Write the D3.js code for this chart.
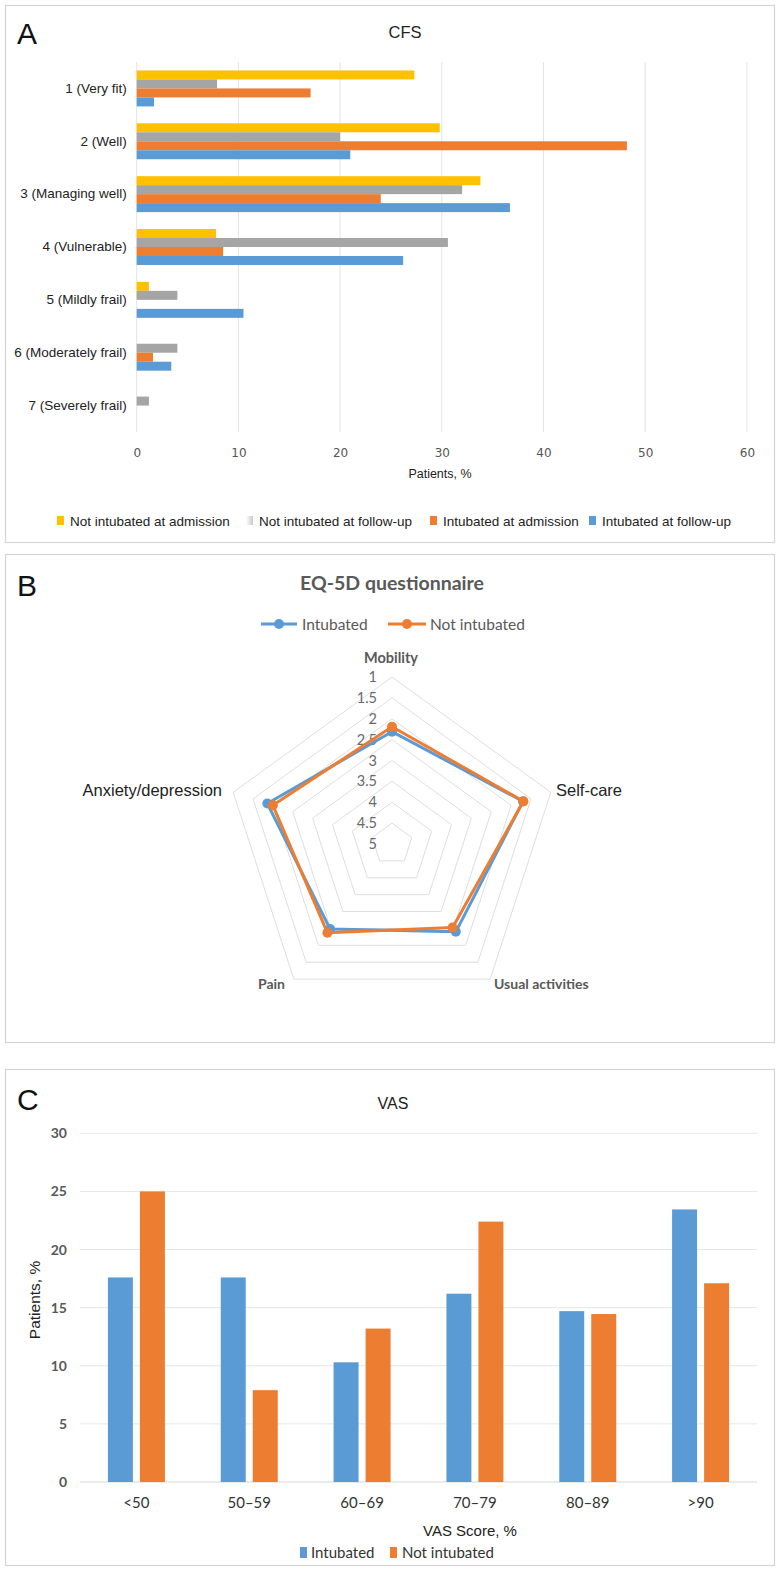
<!DOCTYPE html>
<html><head><meta charset="utf-8">
<script src="https://cdn.jsdelivr.net/npm/d3@7"></script>
<style>body{margin:0;background:#fff} svg{display:block}</style>
</head><body><svg id="c" width="780" height="1571"></svg>
<script>
// ---------- DATA ----------
const cfsCategories = ["1 (Very fit)","2 (Well)","3 (Managing well)","4 (Vulnerable)","5 (Mildly frail)","6 (Moderately frail)","7 (Severely frail)"];
const cfsSeries = ["Not intubated at admission","Not intubated at follow-up","Intubated at admission","Intubated at follow-up"];
const notIntAdmission = [27.3,29.8,33.8,7.8,1.2,0,0];
const notIntFollowup  = [7.9,20.0,32.0,30.6,4.0,4.0,1.2];
const intAdmission    = [17.1,48.2,24.0,8.5,0,1.6,0];
const intFollowup     = [1.7,21.0,36.7,26.2,10.5,3.4,0];
const cfsTicks = [0,10,20,30,40,50,60];

const eqAxes = ["Mobility","Self-care","Usual activities","Pain","Anxiety/depression"];
const eqSeries = ["Intubated","Not intubated"];
const eqIntubated    = [2.31,1.70,2.40,2.48,1.86];
const eqNotIntubated = [2.19,1.69,2.53,2.37,2.00];
const eqTicks = [1,1.5,2,2.5,3,3.5,4,4.5,5];

const vasCategories = ["<50","50–59","60–69","70–79","80–89",">90"];
const vasSeries = ["Intubated","Not intubated"];
const vasIntubated    = [17.6,17.6,10.3,16.2,14.7,23.45];
const vasNotIntubated = [25.0,7.9,13.2,22.4,14.45,17.1];
const vasTicks = [0,5,10,15,20,25,30];

// ---------- STYLE ----------
const YEL="#FFC000", GRY="#A5A5A5", ORG="#ED7D31", BLU="#5B9BD5";
const HEL="'Liberation Sans', Arial, sans-serif";
const CAL="Lato, 'Open Sans', sans-serif";
const svg = d3.select("#c");

const defs = svg.append("defs");
const lg = defs.append("linearGradient").attr("id","gg").attr("x1","0").attr("x2","1");
lg.append("stop").attr("offset","0").attr("stop-color","#ffffff");
lg.append("stop").attr("offset","1").attr("stop-color","#c8c8c8");

function panel(y0,y1,letter,ly){
  svg.append("rect").attr("x",5.5).attr("y",y0+0.5).attr("width",769).attr("height",y1-y0)
    .attr("fill","#fff").attr("stroke","#d4d4d4").attr("stroke-width",1.2);
  svg.append("text").attr("x",17).attr("y",ly).text(letter)
    .attr("font-family",HEL).attr("font-size",30).attr("fill","#111");
}

// ================= PANEL A =================
panel(5,542,"A",44);
svg.append("text").attr("x",405).attr("y",38).attr("text-anchor","middle").text("CFS")
  .attr("font-family",HEL).attr("font-size",16.5).attr("fill","#222");

const xA = d3.scaleLinear().domain([0,60]).range([136.7,746.9]);
const yA = d3.scaleBand().domain(cfsCategories).range([62,432]).paddingInner(0.32).paddingOuter(0.16);
const yA1 = d3.scaleBand().domain(cfsSeries).range([0,yA.bandwidth()]);
const cfsVals = [notIntAdmission,notIntFollowup,intAdmission,intFollowup];
const cfsCols = [YEL,GRY,ORG,BLU];

const gA = svg.append("g");
gA.selectAll("line.grid").data(cfsTicks).join("line")
  .attr("x1",d=>xA(d)).attr("x2",d=>xA(d)).attr("y1",62).attr("y2",432)
  .attr("stroke","#e3e3e3").attr("stroke-width",1);

cfsSeries.forEach((s,si)=>{
  gA.selectAll("rect.s"+si).data(cfsCategories).join("rect")
    .attr("x",xA(0)).attr("y",c=>yA(c)+yA1(s))
    .attr("width",(c,i)=>xA(cfsVals[si][i])-xA(0)).attr("height",yA1.bandwidth())
    .attr("fill",cfsCols[si]);
});

const axA = d3.axisBottom(xA).tickValues(cfsTicks).tickSize(0).tickPadding(0);
const axAg = svg.append("g").attr("transform","translate(0,457)").call(axA);
axAg.select(".domain").remove();
axAg.selectAll("text").attr("font-family","'DejaVu Sans', sans-serif").attr("font-size",12).attr("fill","#555").attr("dy",0);

const ayA = d3.axisLeft(yA).tickSize(0).tickPadding(10);
const ayAg = svg.append("g").attr("transform",`translate(${xA(0)},0)`).call(ayA);
ayAg.select(".domain").remove();
ayAg.selectAll("text").attr("font-family",HEL).attr("font-size",13.5).attr("fill","#222");

svg.append("text").attr("x",440).attr("y",478).attr("text-anchor","middle").text("Patients, %")
  .attr("font-family",HEL).attr("font-size",12.5).attr("fill","#222");

const legAx = [57,246,430,589];
const legAfill = [YEL,"url(#gg)",ORG,BLU];
cfsSeries.forEach((s,i)=>{
  svg.append("rect").attr("x",legAx[i]).attr("y",516).attr("width",7).attr("height",9).attr("fill",legAfill[i]);
  svg.append("text").attr("x",legAx[i]+13).attr("y",526).text(s)
    .attr("font-family",HEL).attr("font-size",13.5).attr("fill","#222");
});

// ================= PANEL B =================
panel(554,1042,"B",596);
svg.append("text").attr("x",392).attr("y",590).attr("text-anchor","middle").text("EQ-5D questionnaire")
  .attr("font-family",CAL).attr("font-weight","bold").attr("font-size",19.5).attr("fill","#595959");

const cx=392, cy=844, R=167;
const rB = d3.scaleLinear().domain([5,1]).range([0,R]);
const ang = d3.scaleBand().domain(eqAxes).range([0,2*Math.PI]).paddingInner(0).paddingOuter(0);
const angOf = a => ang(a);
const pt = (a,v)=>[cx+rB(v)*Math.sin(angOf(a)), cy-rB(v)*Math.cos(angOf(a))];

const gB = svg.append("g");
eqTicks.filter(t=>t<5).forEach(t=>{
  gB.append("path").attr("d", d3.line()(eqAxes.map(a=>pt(a,t)).concat([pt(eqAxes[0],t)])))
    .attr("fill","none").attr("stroke","#dedede").attr("stroke-width",1);
});
eqTicks.forEach(t=>{
  gB.append("text").attr("x",cx-15).attr("y",cy-rB(t)+5).attr("text-anchor","end").text(String(t))
    .attr("font-family",CAL).attr("font-size",14.5).attr("fill","#6a6a6a");
});

const eqVals=[eqIntubated,eqNotIntubated], eqCols=[BLU,ORG];
eqSeries.forEach((s,si)=>{
  const pts = eqAxes.map((a,i)=>pt(a,eqVals[si][i]));
  gB.append("path").attr("d",d3.line()(pts.concat([pts[0]])))
    .attr("fill","none").attr("stroke",eqCols[si]).attr("stroke-width",3).attr("stroke-linejoin","round");
  gB.selectAll("circle.s"+si).data(pts).join("circle")
    .attr("cx",d=>d[0]).attr("cy",d=>d[1]).attr("r",5).attr("fill",eqCols[si]);
});

const labB = [
  {t:eqAxes[0],x:391,y:663,a:"middle",f:CAL,w:"bold",s:14.5,c:"#595959"},
  {t:eqAxes[1],x:556,y:796,a:"start",f:HEL,w:"normal",s:16.5,c:"#222"},
  {t:eqAxes[2],x:494,y:989,a:"start",f:CAL,w:"bold",s:14,c:"#595959"},
  {t:eqAxes[3],x:258,y:989,a:"start",f:CAL,w:"bold",s:14,c:"#595959"},
  {t:eqAxes[4],x:222,y:796,a:"end",f:HEL,w:"normal",s:16.5,c:"#222"}
];
labB.forEach(l=>svg.append("text").attr("x",l.x).attr("y",l.y).attr("text-anchor",l.a).text(l.t)
  .attr("font-family",l.f).attr("font-weight",l.w).attr("font-size",l.s).attr("fill",l.c));

const legB = [{x1:261,x2:297,tx:302},{x1:388,x2:426,tx:430}];
eqSeries.forEach((s,i)=>{
  svg.append("line").attr("x1",legB[i].x1).attr("x2",legB[i].x2).attr("y1",624).attr("y2",624)
    .attr("stroke",eqCols[i]).attr("stroke-width",3);
  svg.append("circle").attr("cx",(legB[i].x1+legB[i].x2)/2).attr("cy",624).attr("r",5).attr("fill",eqCols[i]);
  svg.append("text").attr("x",legB[i].tx).attr("y",629.5).text(s)
    .attr("font-family",CAL).attr("font-size",15.5).attr("fill","#595959");
});

// ================= PANEL C =================
panel(1069,1565,"C",1110);
svg.append("text").attr("x",393).attr("y",1109).attr("text-anchor","middle").text("VAS")
  .attr("font-family",HEL).attr("font-size",16).attr("fill","#222");

const yC = d3.scaleLinear().domain([0,30]).range([1482,1133.3]);
const xC = d3.scaleBand().domain(vasCategories).range([80,757]).paddingInner(0.495).paddingOuter(0.2475);
const xC1 = d3.scaleBand().domain(vasSeries).range([0,xC.bandwidth()]).paddingInner(0.22);
const gC = svg.append("g");
gC.selectAll("line.g").data(vasTicks).join("line")
  .attr("x1",80).attr("x2",757).attr("y1",d=>yC(d)).attr("y2",d=>yC(d))
  .attr("stroke",(d)=>d===0?"#d6d6d6":"#e6e6e6").attr("stroke-width",1);
const vasVals=[vasIntubated,vasNotIntubated], vasCols=[BLU,ORG];
vasSeries.forEach((s,si)=>{
  gC.selectAll("rect.s"+si).data(vasCategories).join("rect")
    .attr("x",c=>xC(c)+xC1(s)).attr("width",xC1.bandwidth())
    .attr("y",(c,i)=>yC(vasVals[si][i])).attr("height",(c,i)=>yC(0)-yC(vasVals[si][i]))
    .attr("fill",vasCols[si]);
});
const ayC = d3.axisLeft(yC).tickValues(vasTicks).tickSize(0).tickPadding(0);
const ayCg = svg.append("g").attr("transform","translate(67,0)").call(ayC);
ayCg.select(".domain").remove();
ayCg.selectAll("text").attr("font-family",CAL).attr("font-weight","bold").attr("font-size",14).attr("fill","#595959");

const axC = d3.axisBottom(xC).tickSize(0).tickPadding(0);
const axCg = svg.append("g").attr("transform","translate(0,1497)").call(axC);
axCg.select(".domain").remove();
axCg.selectAll("text").attr("font-family",CAL).attr("font-size",15).attr("fill","#333");

svg.append("text").attr("x",470).attr("y",1536).attr("text-anchor","middle").text("VAS Score, %")
  .attr("font-family",HEL).attr("font-size",15).attr("fill","#222");
svg.append("text").attr("transform","translate(40,1300) rotate(-90)").attr("text-anchor","middle").text("Patients, %")
  .attr("font-family",HEL).attr("font-size",15.5).attr("fill","#222");

const legC=[{x:300,tx:311},{x:390,tx:402}];
vasSeries.forEach((s,i)=>{
  svg.append("rect").attr("x",legC[i].x).attr("y",1547).attr("width",7).attr("height",11).attr("fill",vasCols[i]);
  svg.append("text").attr("x",legC[i].tx).attr("y",1558).text(s)
    .attr("font-family",CAL).attr("font-size",15).attr("fill","#333");
});
</script></body></html>
